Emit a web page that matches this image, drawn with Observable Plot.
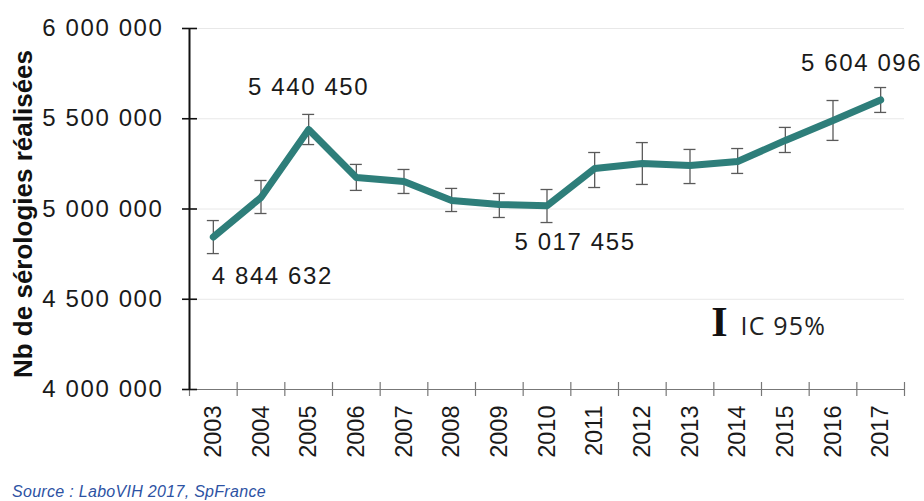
<!DOCTYPE html>
<html>
<head>
<meta charset="utf-8">
<script src="https://cdn.jsdelivr.net/npm/d3@7"></script>
<script src="https://cdn.jsdelivr.net/npm/@observablehq/plot@0.6"></script>
<style>
  html, body { margin: 0; padding: 0; background: #fff; }
  #caption { font-family: "Liberation Sans", Arial, sans-serif; font-style: italic; font-size: 16px;
             color: #2d52a3; margin: 12px 0 0 12px; line-height: 20px; letter-spacing: 0.3px; }
</style>
</head>
<body>
<div id="chart"></div>
<div id="caption">Source : LaboVIH 2017, SpFrance</div>
<script>
const years = [2003, 2004, 2005, 2006, 2007, 2008, 2009, 2010, 2011, 2012, 2013, 2014, 2015, 2016, 2017];
const values = [4844632, 5064000, 5440450, 5175000, 5152000, 5047000, 5025000, 5017455, 5224000, 5252000, 5241000, 5263000, 5380000, 5490000, 5604096];
const ciLow  = [4753000, 4975000, 5357000, 5103000, 5086000, 4986000, 4953000, 4925000, 5119000, 5136000, 5141000, 5197000, 5313000, 5380000, 5535000];
const ciHigh = [4936000, 5158000, 5524000, 5247000, 5219000, 5114000, 5086000, 5108000, 5313000, 5368000, 5330000, 5335000, 5452000, 5601000, 5673000];
const yTicks = [4000000, 4500000, 5000000, 5500000, 6000000];
const labeledYears = [2003, 2005, 2010, 2017];
const yTitle = "Nb de sérologies réalisées";
const legendText = "IC 95%";

const data = years.map((y, i) => ({year: y, value: values[i], lo: ciLow[i], hi: ciHigh[i]}));
const fmt = v => d3.format(",")(v).replace(/,/g, " ");
const xDomain = [years[0] - 0.5, years[years.length - 1] + 0.5];
const bounds = d3.range(years.length + 1).map(i => xDomain[0] + i);

// label placement offsets (px) for the annotated points
const labelOffsets = {2003: [59, 39], 2005: [0, -42], 2010: [28, 36], 2017: [-19, -37]};

const font = "Liberation Sans, Arial, sans-serif";

const chart = Plot.plot({
  width: 924,
  height: 470,
  marginLeft: 189,
  marginRight: 20,
  marginTop: 28,
  marginBottom: 81,
  style: {fontFamily: font, background: "white"},
  x: {domain: xDomain},
  y: {domain: [yTicks[0], yTicks[yTicks.length - 1]]},
  marks: [
    Plot.ruleY(yTicks, {stroke: "#e8e8e8", strokeWidth: 1}),
    Plot.ruleY([yTicks[0]], {stroke: "#777", strokeWidth: 1.2}),
    Plot.ruleX(bounds, {x: d => d, y1: yTicks[0], y2: yTicks[0], insetTop: -7, insetBottom: -7, stroke: "#777", strokeWidth: 1.2}),
    Plot.ruleY(yTicks, {x1: xDomain[0], x2: xDomain[0], insetLeft: -7, insetRight: -8, stroke: "#111", strokeWidth: 1.6}),
    Plot.ruleX([xDomain[0]], {stroke: "#111", strokeWidth: 2}),
    Plot.axisY({ticks: yTicks, tickSize: 0, tickPadding: 26, tickFormat: fmt, fontSize: 24, label: null, fill: "#1a1a1a"}),
    Plot.axisX({ticks: years, tickSize: 0, tickPadding: 16, tickRotate: -90, tickFormat: d => String(d),
                fontSize: 23.5, label: null, fill: "#1a1a1a"}),
    Plot.text([yTitle], {frameAnchor: "left", dx: -166, dy: 5, rotate: -90, fontSize: 26, fontWeight: "bold",
                         textAnchor: "middle", lineAnchor: "middle", fill: "#111"}),
    // error bars
    Plot.ruleX(data, {x: "year", y1: "hi", y2: "lo", stroke: "#5a5a5a", strokeWidth: 1.3}),
    Plot.ruleY(data, {y: "hi", x1: "year", x2: "year", insetLeft: -6, insetRight: -6, stroke: "#5a5a5a", strokeWidth: 1.3}),
    Plot.ruleY(data, {y: "lo", x1: "year", x2: "year", insetLeft: -6, insetRight: -6, stroke: "#5a5a5a", strokeWidth: 1.3}),
    Plot.line(data, {x: "year", y: "value", stroke: "#2e7e7a", strokeWidth: 7, strokeLinejoin: "round"}),
    ...labeledYears.map(yr => Plot.text(data.filter(d => d.year === yr), {
      x: "year", y: "value", text: d => fmt(d.value), dx: labelOffsets[yr][0], dy: labelOffsets[yr][1],
      fontSize: 24, fill: "#1a1a1a", lineAnchor: "middle", textAnchor: "middle"
    })),
    // legend
    Plot.text(["I"], {frameAnchor: "top-left", dx: 530, dy: 294, fontSize: 42, fontWeight: "bold",
                      fontFamily: "Liberation Serif, serif", textAnchor: "middle", lineAnchor: "middle", fill: "#111"}),
    Plot.text([legendText], {frameAnchor: "top-left", dx: 551, dy: 298, fontSize: 25, fontFamily: "Open Sans, sans-serif",
                             textAnchor: "start", lineAnchor: "middle", fill: "#222"})
  ]
});
document.getElementById("chart").appendChild(chart);

// widen the horizontal number labels (the reference text is horizontally stretched)
const labelSet = new Set(labeledYears.map(yr => fmt(values[years.indexOf(yr)])));
d3.select(chart).selectAll('g[aria-label="y-axis tick label"] text').style("letter-spacing", "1.6px");
d3.select(chart).selectAll("text").each(function () {
  const t = this.textContent;
  if (labelSet.has(t)) d3.select(this).style("letter-spacing", "1.6px");
  if (t === legendText) d3.select(this).style("letter-spacing", "1.2px");
});
</script>
</body>
</html>
